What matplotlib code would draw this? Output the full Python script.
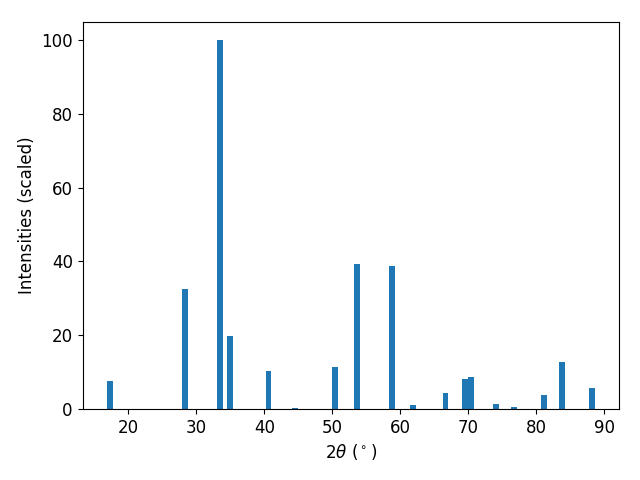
import matplotlib
matplotlib.use("Agg")
import matplotlib.pyplot as plt

# peak positions (2theta, degrees) and scaled intensities
two_theta = [17.29, 28.37, 33.45, 35.0, 40.63, 44.46, 50.37, 53.68, 58.83,
             61.85, 66.63, 69.50, 70.38, 74.06, 76.71, 81.12, 83.77, 88.12]
intensity = [7.6, 32.4, 100.0, 19.8, 10.3, 0.3, 11.4, 39.3, 38.8,
             1.1, 4.3, 8.1, 8.7, 1.4, 0.5, 3.8, 12.7, 5.7]

plt.rcParams["font.size"] = 12

fig, ax = plt.subplots(figsize=(6.4, 4.8), dpi=100)
ax.bar(two_theta, intensity, width=0.85)
ax.set_xlabel(r"$2\theta$ ($^\circ$)")
ax.set_ylabel("Intensities (scaled)")
fig.subplots_adjust(left=0.129, right=0.967, top=0.955, bottom=0.148)
plt.savefig("out.png")
